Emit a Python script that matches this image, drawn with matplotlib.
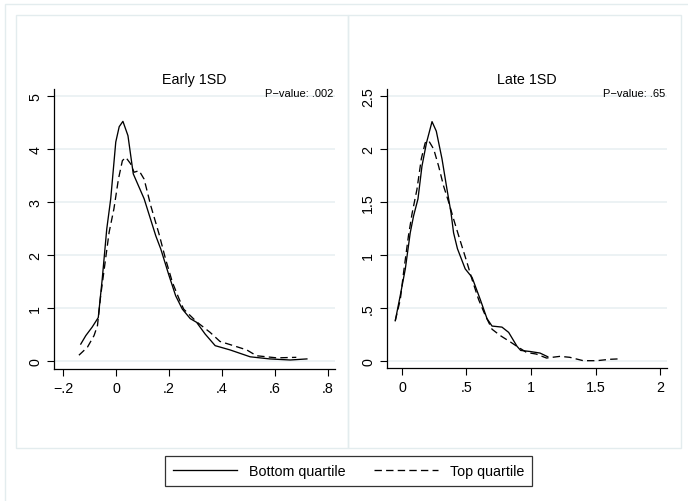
"""
Kernel density comparison, bottom vs top quartile (Stata-style two-panel figure).
"""
import matplotlib
matplotlib.use('Agg')
import matplotlib.pyplot as plt
from matplotlib.lines import Line2D
from matplotlib.patches import Rectangle

plt.rcParams['font.family'] = ['Liberation Sans', 'DejaVu Sans']

# ── Data ────────────────────────────────────────────────────────
panel_titles = ['Early 1SD', 'Late 1SD']
p_values = ['P\u2212value: .002', 'P\u2212value: .65']
series_labels = ['Bottom quartile', 'Top quartile']

early_bottom_x = [-0.133, -0.114, -0.09, -0.067, -0.052, -0.035, -0.02, -0.001,
                  0.012, 0.026, 0.045, 0.065, 0.106, 0.15, 0.169, 0.2, 0.225,
                  0.25, 0.28, 0.304, 0.336, 0.374, 0.43, 0.506, 0.58, 0.657, 0.72]
early_bottom_y = [0.32, 0.48, 0.64, 0.82, 1.55, 2.49, 3.06, 4.13,
                  4.42, 4.52, 4.25, 3.53, 3.06, 2.36, 2.11, 1.61, 1.23,
                  0.98, 0.80, 0.73, 0.51, 0.29, 0.21, 0.08, 0.04, 0.02, 0.04]

early_top_x = [-0.14, -0.108, -0.083, -0.07, -0.058, -0.026, -0.008, 0.009,
               0.024, 0.037, 0.055, 0.068, 0.087, 0.106, 0.131, 0.162, 0.187,
               0.213, 0.238, 0.255, 0.304, 0.355, 0.392, 0.443, 0.493, 0.53,
               0.606, 0.68]
early_top_y = [0.11, 0.26, 0.48, 0.67, 1.23, 2.43, 2.87, 3.43,
               3.78, 3.84, 3.72, 3.56, 3.59, 3.43, 2.93, 2.40, 1.92,
               1.48, 1.17, 0.98, 0.74, 0.54, 0.37, 0.29, 0.21, 0.10,
               0.06, 0.07]

late_bottom_x = [-0.052, -0.013, 0.026, 0.064, 0.09, 0.124, 0.155, 0.19, 0.233,
                 0.266, 0.31, 0.349, 0.38, 0.40, 0.43, 0.49, 0.543, 0.607,
                 0.659, 0.698, 0.775, 0.827, 0.891, 0.92, 0.992, 1.07, 1.13]
late_bottom_y = [0.38, 0.62, 0.87, 1.21, 1.37, 1.53, 1.84, 2.06, 2.26,
                 2.17, 1.91, 1.62, 1.40, 1.21, 1.06, 0.87, 0.79, 0.58,
                 0.40, 0.33, 0.32, 0.27, 0.14, 0.10, 0.09, 0.075, 0.04]

late_top_x = [-0.052, -0.013, 0.013, 0.05, 0.078, 0.116, 0.15, 0.18, 0.207,
              0.246, 0.284, 0.323, 0.362, 0.40, 0.44, 0.504, 0.543, 0.594,
              0.646, 0.698, 0.762, 0.84, 0.889, 0.967, 1.04, 1.12, 1.225,
              1.30, 1.405, 1.51, 1.61, 1.68]
late_top_y = [0.38, 0.58, 0.84, 1.18, 1.39, 1.62, 1.91, 2.06, 2.08,
              2.00, 1.84, 1.65, 1.50, 1.34, 1.18, 0.93, 0.77, 0.58,
              0.43, 0.30, 0.24, 0.18, 0.14, 0.08, 0.066, 0.028, 0.044,
              0.035, 0.003, 0.003, 0.016, 0.02]

early_xticks = [-0.2, 0, 0.2, 0.4, 0.6, 0.8]
early_xlabels = ['\u2212.2', '0', '.2', '.4', '.6', '.8']
early_yticks = [0, 1, 2, 3, 4, 5]
early_ylabels = ['0', '1', '2', '3', '4', '5']

late_xticks = [0, 0.5, 1, 1.5, 2]
late_xlabels = ['0', '.5', '1', '1.5', '2']
late_yticks = [0, 0.5, 1, 1.5, 2, 2.5]
late_ylabels = ['0', '.5', '1', '1.5', '2', '2.5']

# ── Layout (pixels) ─────────────────────────────────────────────
W, H = 688, 502
GRID = '#eaf1f3'
FRAME = '#e3ecee'
FS = 10.3
DASH = (0, (5.6, 3.2))

fig = plt.figure(figsize=(W / 100, H / 100), dpi=100)
fig.patch.set_facecolor('white')


def px_rect(x0, y0, x1, y1):
    return [x0 / W, 1 - y1 / H, (x1 - x0) / W, (y1 - y0) / H]


# outer frame and panel boxes
for x0, y0, x1, y1 in [(5, 5, 700, 520), (16, 16, 348, 449), (348, 16, 681, 449)]:
    fig.patches.append(Rectangle((x0 / W, 1 - y1 / H), (x1 - x0) / W, (y1 - y0) / H,
                                 transform=fig.transFigure, fill=False,
                                 edgecolor=FRAME, linewidth=1.0))

panels = [
    dict(rect=(54, 90, 335, 370), xlim=(-0.234, 0.826), ylim=(-0.15, 5.13),
         bottom=(early_bottom_x, early_bottom_y), top=(early_top_x, early_top_y),
         xt=(early_xticks, early_xlabels), yt=(early_yticks, early_ylabels),
         title_x=194.5),
    dict(rect=(387, 90, 667, 369), xlim=(-0.116, 2.054), ylim=(-0.066, 2.568),
         bottom=(late_bottom_x, late_bottom_y), top=(late_top_x, late_top_y),
         xt=(late_xticks, late_xlabels), yt=(late_yticks, late_ylabels),
         title_x=527),
]

for i, p in enumerate(panels):
    ax = fig.add_axes(px_rect(*p['rect']))
    ax.set_facecolor('none')
    ax.plot(*p['bottom'], color='black', lw=0.95, solid_joinstyle='round')
    ax.plot(*p['top'], color='black', lw=0.95, linestyle=DASH)
    ax.set_xlim(*p['xlim'])
    ax.set_ylim(*p['ylim'])
    ax.set_xticks(p['xt'][0])
    ax.set_xticklabels(p['xt'][1])
    ax.set_yticks(p['yt'][0])
    ax.set_yticklabels(p['yt'][1], rotation=90, va='center')
    ax.tick_params(axis='both', direction='out', length=5, width=0.8,
                   labelsize=FS, pad=3.5)
    ax.yaxis.grid(True, color=GRID, linewidth=1.3)
    ax.set_axisbelow(True)
    for s in ['top', 'right']:
        ax.spines[s].set_visible(False)
    for s in ['left', 'bottom']:
        ax.spines[s].set_linewidth(0.9)
    ax.text(0.993, 0.986, p_values[i], transform=ax.transAxes,
            ha='right', va='center', fontsize=8.0)
    fig.text(p['title_x'] / W, 1 - 80 / H, panel_titles[i],
             ha='center', va='center', fontsize=FS)

handles = [Line2D([], [], color='black', lw=0.95),
           Line2D([], [], color='black', lw=0.95, linestyle=DASH)]
leg = fig.legend(handles, series_labels, ncol=2, loc='center',
                 bbox_to_anchor=(348.5 / W, 1 - 472 / H), fontsize=FS,
                 handlelength=4.5, handletextpad=0.8, columnspacing=2.0,
                 frameon=True, fancybox=False, borderpad=0.55)
leg.get_frame().set_edgecolor('black')
leg.get_frame().set_linewidth(0.9)

fig.savefig('out.png', dpi=100)
